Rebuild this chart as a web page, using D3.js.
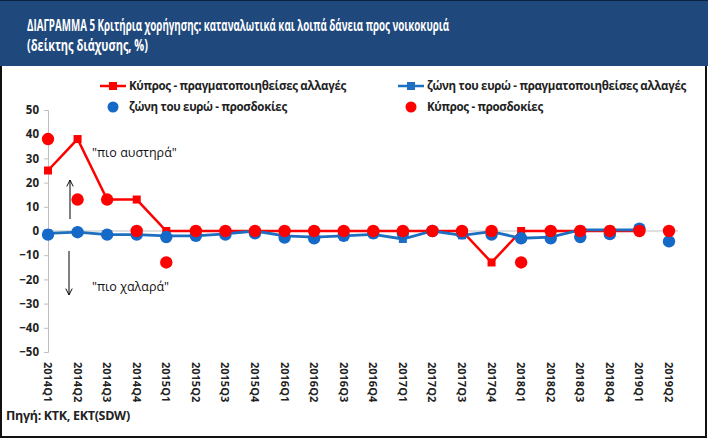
<!DOCTYPE html>
<html><head><meta charset="utf-8">
<script src="https://cdn.jsdelivr.net/npm/d3@7"></script>
<style>body{margin:0;background:#fff}svg{display:block}text{font-family:"Open Sans",sans-serif}</style>
</head><body>
<script>
const categories = ["2014Q1","2014Q2","2014Q3","2014Q4","2015Q1","2015Q2","2015Q3","2015Q4","2016Q1","2016Q2","2016Q3","2016Q4","2017Q1","2017Q2","2017Q3","2017Q4","2018Q1","2018Q2","2018Q3","2018Q4","2019Q1","2019Q2"];
const cyRealized = [25,38,13,13,0,0,0,0,0,0,0,0,0,0,0,-13,0,0,0,0,0,null];
const euRealized = [-1,-0.5,-1.5,-1.5,-2,-2,-1.2,0,-2,-2.5,-2,-1.4,-3.3,0,-1.8,-0.3,-3,-2.5,0.5,0.5,0.5,null];
const euExpect = [-1.5,-0.5,-1.5,-1.5,-2.5,-2,-1.5,-1,-2.7,-3,-2,-1,-1,0,-1,-1.5,-3,-3,-2.5,-1.3,1,-4.3];
const cyExpect = [38,13,13,0,-13,0,0,0,0,0,0,0,0,0,0,0,-13,0,0,0,0,0];
const yTicks = [50,40,30,20,10,0,-10,-20,-30,-40,-50];

const W=708,H=439;
const RED="#ff0000", BLUE="#1f6fc0", BLUED="#1569c7";
const svg=d3.select("body").append("svg").attr("width",W).attr("height",H);

// frame and title band
svg.append("rect").attr("x",1).attr("y",1).attr("width",W-3).attr("height",H-3).attr("fill","#fff").attr("stroke","#111").attr("stroke-width",2);
svg.append("rect").attr("x",0).attr("y",0).attr("width",W).attr("height",66).attr("fill","#1f497d");
svg.append("line").attr("x1",0).attr("x2",W).attr("y1",0.5).attr("y2",0.5).attr("stroke","#0d2240");
svg.append("text").attr("x",27).attr("y",31).attr("fill","#fff").attr("font-size",15.5).attr("font-weight","bold")
  .attr("textLength",422).attr("lengthAdjust","spacingAndGlyphs")
  .text("ΔΙΑΓΡΑΜΜΑ 5 Κριτήρια χορήγησης: καταναλωτικά και λοιπά δάνεια προς νοικοκυριά");
svg.append("text").attr("x",27).attr("y",51).attr("fill","#fff").attr("font-size",15.5).attr("font-weight","bold")
  .attr("textLength",121).attr("lengthAdjust","spacingAndGlyphs")
  .text("(δείκτης διάχυσης, %)");

const x=d3.scalePoint().domain(categories).range([48,669]);
const y=d3.scaleLinear().domain([-50,50]).range([352,110]);

// y axis
const ya=svg.append("g").attr("transform","translate(48,0)").call(d3.axisLeft(y).tickValues(yTicks).tickSize(4).tickPadding(5).tickFormat(d3.format("d")));
ya.select(".domain").attr("stroke","#bfbfbf");
ya.selectAll(".tick line").attr("stroke","#bfbfbf");
ya.selectAll("text").attr("font-size",11.5).attr("font-weight","bold").attr("fill","#222").attr("font-family","Open Sans");

// x axis at 0
const xa=svg.append("g").attr("transform",`translate(0,${y(0)})`).call(d3.axisBottom(x).tickSize(3).tickFormat(""));
xa.select(".domain").attr("stroke","#bfbfbf").attr("d",`M48,0H678`);
xa.selectAll(".tick line").attr("stroke","#bfbfbf");

// x labels
svg.append("g").selectAll("text").data(categories).join("text")
  .attr("transform",d=>`translate(${x(d)-4},362) rotate(90)`)
  .attr("font-size",11).attr("font-weight","bold").attr("fill","#222").attr("font-family","Liberation Mono, DejaVu Sans Mono, monospace")
  .text(d=>d);

const line=d3.line().defined(d=>d.v!==null).x(d=>x(d.c)).y(d=>y(d.v));
const toPts=arr=>categories.map((c,i)=>({c,v:arr[i]}));

// Cyprus realized
svg.append("path").datum(toPts(cyRealized)).attr("d",line).attr("fill","none").attr("stroke",RED).attr("stroke-width",2.5);
svg.append("g").selectAll("rect").data(toPts(cyRealized).filter(d=>d.v!==null)).join("rect")
  .attr("x",d=>x(d.c)-4).attr("y",d=>y(d.v)-4).attr("width",8).attr("height",8).attr("fill",RED);
// Euro realized
svg.append("path").datum(toPts(euRealized)).attr("d",line).attr("fill","none").attr("stroke",BLUE).attr("stroke-width",2.8);
svg.append("g").selectAll("rect").data(toPts(euRealized).filter(d=>d.v!==null)).join("rect")
  .attr("x",d=>x(d.c)-4).attr("y",d=>y(d.v)-4).attr("width",8).attr("height",8).attr("fill",BLUE);
// Euro expectations
svg.append("g").selectAll("circle").data(toPts(euExpect)).join("circle")
  .attr("cx",d=>x(d.c)).attr("cy",d=>y(d.v)).attr("r",6.2).attr("fill",BLUED);
// Cyprus expectations
svg.append("g").selectAll("circle").data(toPts(cyExpect)).join("circle")
  .attr("cx",d=>x(d.c)).attr("cy",d=>y(d.v)).attr("r",6.2).attr("fill",RED);

// legend
const lg=svg.append("g").attr("font-size",11.5).attr("font-weight","bold").attr("fill","#222");
lg.append("line").attr("x1",100).attr("x2",126).attr("y1",86).attr("y2",86).attr("stroke",RED).attr("stroke-width",2.5);
lg.append("rect").attr("x",109).attr("y",82).attr("width",8).attr("height",8).attr("fill",RED);
lg.append("text").attr("x",129).attr("y",90).attr("letter-spacing",-0.3).text("Κύπρος - πραγματοποιηθείσες αλλαγές");
lg.append("line").attr("x1",398).attr("x2",424).attr("y1",86).attr("y2",86).attr("stroke",BLUE).attr("stroke-width",2.5);
lg.append("rect").attr("x",407).attr("y",82).attr("width",8).attr("height",8).attr("fill",BLUE);
lg.append("text").attr("x",427).attr("y",90).attr("letter-spacing",-0.3).text("ζώνη του ευρώ - πραγματοποιηθείσες αλλαγές");
lg.append("circle").attr("cx",113).attr("cy",107).attr("r",5.5).attr("fill",BLUED);
lg.append("text").attr("x",129).attr("y",111).attr("letter-spacing",-0.3).text("ζώνη του ευρώ - προσδοκίες");
lg.append("circle").attr("cx",411).attr("cy",107).attr("r",5.5).attr("fill",RED);
lg.append("text").attr("x",427).attr("y",111).attr("letter-spacing",-0.3).text("Κύπρος - προσδοκίες");

// annotations
svg.append("defs").append("marker").attr("id","ah").attr("viewBox","0 0 10 10").attr("refX",9).attr("refY",5)
  .attr("markerWidth",8).attr("markerHeight",8).attr("orient","auto-start-reverse")
  .append("path").attr("d","M1,1L9,5L1,9").attr("fill","none").attr("stroke","#000").attr("stroke-width",1.2);
svg.append("line").attr("x1",70).attr("x2",70).attr("y1",219).attr("y2",180).attr("stroke","#000").attr("stroke-width",1).attr("marker-end","url(#ah)");
svg.append("line").attr("x1",69).attr("x2",69).attr("y1",251).attr("y2",295).attr("stroke","#000").attr("stroke-width",1).attr("marker-end","url(#ah)");
svg.append("text").attr("x",92).attr("y",157).attr("font-size",12.5).attr("fill","#111").text("\"πιο αυστηρά\"");
svg.append("text").attr("x",92).attr("y",291).attr("font-size",12.5).attr("fill","#111").text("\"πιο χαλαρά\"");

// source
svg.append("text").attr("x",6).attr("y",420).attr("font-size",12.5).attr("font-weight","bold").attr("fill","#222").attr("letter-spacing",-0.3).text("Πηγή: KTK, EKT(SDW)");
</script>
</body></html>
